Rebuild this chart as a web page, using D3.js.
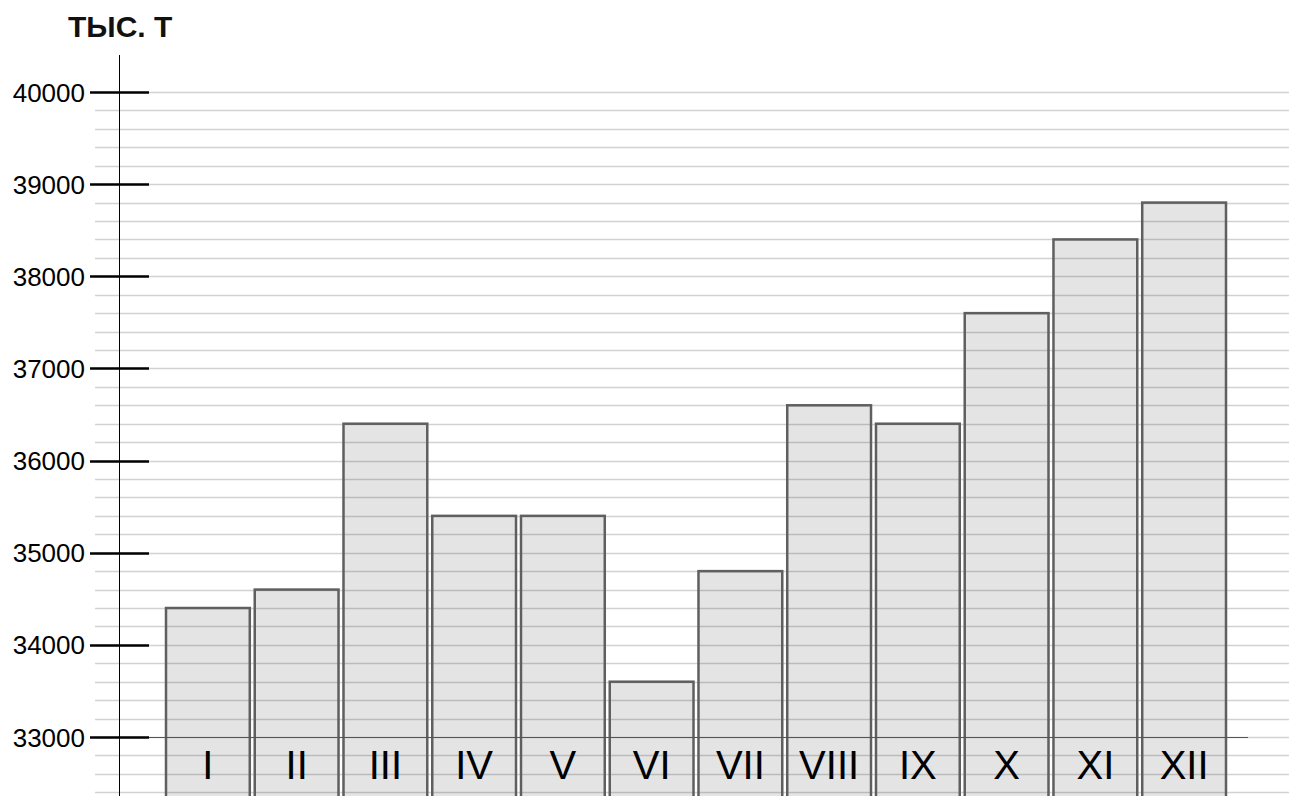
<!DOCTYPE html>
<html><head><meta charset="utf-8">
<script src="https://cdn.jsdelivr.net/npm/d3@7"></script>
<style>body{margin:0;background:#fff}svg{display:block;font-family:Arial,"Liberation Sans",sans-serif}</style>
</head><body><svg id="c" width="1289" height="796"></svg>
<script>
const months = ["I","II","III","IV","V","VI","VII","VIII","IX","X","XI","XII"];
const values = [34400,34600,36400,35400,35400,33600,34800,36600,36400,37600,38400,38800];
const majorTicks = [33000,34000,35000,36000,37000,38000,39000,40000];
const minorTicks = d3.range(32400, 40001, 200);
const unitLabel = "ТЫС. Т";

const svg = d3.select("#c");
const W = 1289, H = 796;
const y = d3.scaleLinear().domain([33000, 40000]).range([737, 92]);
const x = d3.scaleBand().domain(months).range([166, 1226]).paddingInner(0.056).paddingOuter(0);

// minor gridlines
svg.append("g").selectAll("line").data(minorTicks).join("line")
  .attr("x1", 95).attr("x2", W)
  .attr("y1", d => Math.round(y(d)) + 0.5).attr("y2", d => Math.round(y(d)) + 0.5)
  .attr("stroke", "#d2d2d2").attr("stroke-width", 1.5);

// bars
svg.append("g").selectAll("rect").data(values).join("rect")
  .attr("x", (d, i) => x(months[i]))
  .attr("width", x.bandwidth())
  .attr("y", d => y(d))
  .attr("height", d => H + 10 - y(d))
  .attr("fill", "rgba(0,0,0,0.105)")
  .attr("stroke", "#5f5f5f").attr("stroke-width", 2.5);

// baseline at 33000
svg.append("line").attr("x1", 149).attr("x2", 1248)
  .attr("y1", Math.round(y(33000)) + 0.5).attr("y2", Math.round(y(33000)) + 0.5)
  .attr("stroke", "#555").attr("stroke-width", 1);

// month labels
svg.append("g").selectAll("text").data(months).join("text")
  .attr("x", d => x(d) + x.bandwidth() / 2)
  .attr("y", 779)
  .attr("text-anchor", "middle")
  .attr("font-size", 40)
  .attr("fill", "#000")
  .text(d => d);

// vertical axis line
svg.append("line").attr("x1", 119.5).attr("x2", 119.5).attr("y1", 55).attr("y2", H)
  .attr("stroke", "#000").attr("stroke-width", 1);

// y axis via d3
const axis = d3.axisLeft(y).tickValues(majorTicks).tickSize(0).tickPadding(0).tickFormat(d3.format("d"));
const ag = svg.append("g").attr("transform", "translate(85,0)").call(axis);
ag.select(".domain").remove();
ag.selectAll("text").attr("font-size", 26).attr("fill", "#000").attr("font-family", "Arial,'Liberation Sans',sans-serif").attr("dy", "0.35em");

svg.append("g").selectAll("line").data(majorTicks).join("line")
  .attr("x1", 90).attr("x2", 149)
  .attr("y1", d => Math.round(y(d)) + 0.5).attr("y2", d => Math.round(y(d)) + 0.5)
  .attr("stroke", "#000").attr("stroke-width", 2.5);

// unit label
svg.append("text").attr("x", 68).attr("y", 37)
  .attr("font-size", 30).attr("font-weight", "bold").attr("fill", "#111")
  .text(unitLabel);
</script></body></html>
